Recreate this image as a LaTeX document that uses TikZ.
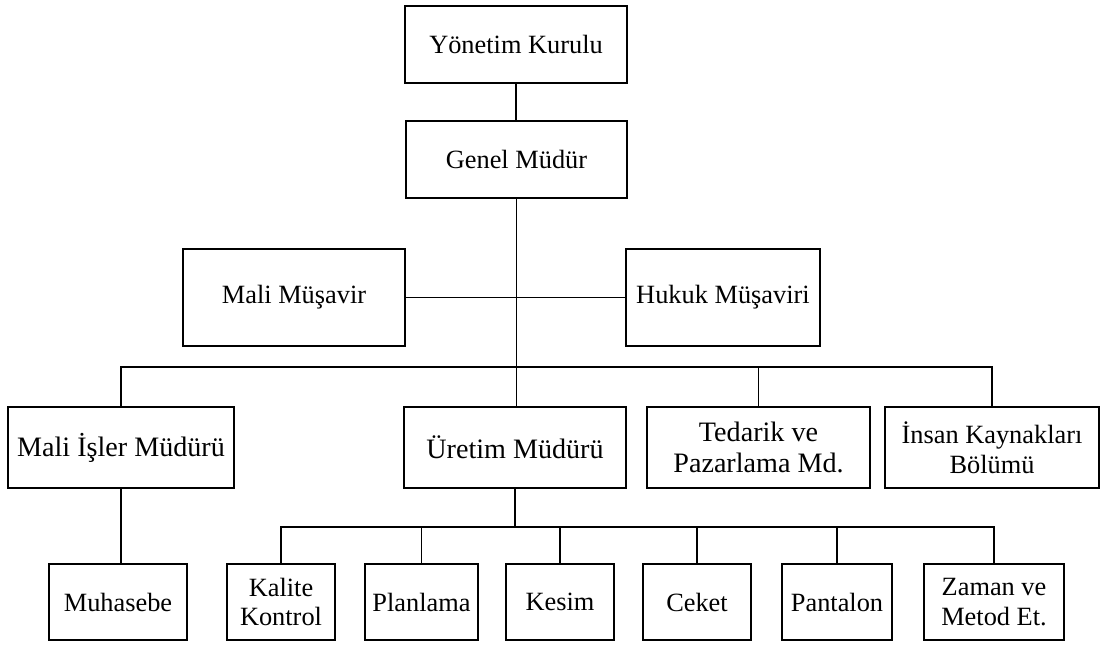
\documentclass[tikz,border=0pt]{standalone}
\usepackage{fontspec}
\setmainfont{Liberation Serif}
\usepackage{tikz}

\tikzset{
  kutu/.style={draw, line width=1.1pt, align=center, inner sep=2pt,
    font=\fontsize{15}{17}\selectfont},
  mdr/.style={kutu, font=\fontsize{16}{17.5}\selectfont},
  hat/.style={line width=0.6pt}
}

\begin{document}
\begin{tikzpicture}
\useasboundingbox (0,0) rectangle (22.18,-12.9);
%%%%%DRAW TOP BOXES%%%%%%%%%
\node[kutu, minimum width=4.44cm, minimum height=1.54cm] (yk) at (10.32,-0.89) {Yönetim Kurulu};
\node[kutu, minimum width=4.42cm, minimum height=1.54cm] (gm) at (10.33,-3.19) {Genel Müdür};
\node[kutu, minimum width=4.44cm, minimum height=1.94cm] (mm) at (5.88,-5.95) {Mali Müşavir};
\node[kutu, minimum width=3.88cm, minimum height=1.94cm] (hm) at (14.46,-5.95) {Hukuk Müşaviri};

%%%%%DRAW MANAGERS%%%%%%%
\node[mdr, minimum width=4.52cm, minimum height=1.62cm] (mim) at (2.42,-8.95) {Mali İşler Müdürü};
\node[mdr, minimum width=4.44cm, minimum height=1.62cm] (um) at (10.30,-8.95) {Üretim Müdürü};
\node[mdr, minimum width=4.46cm, minimum height=1.62cm] (tp) at (15.17,-8.95) {Tedarik ve\\Pazarlama Md.};
\node[kutu, minimum width=4.28cm, minimum height=1.62cm] (ik) at (19.84,-8.95) {İnsan Kaynakları\\Bölümü};

%%%%%DRAW UNITS%%%%%%%
\node[kutu, minimum width=2.76cm, minimum height=1.52cm] (muh) at (2.36,-12.04) {Muhasebe};
\node[kutu, minimum width=2.16cm, minimum height=1.52cm] (kk) at (5.62,-12.04) {Kalite\\Kontrol};
\node[kutu, minimum width=2.26cm, minimum height=1.52cm] (pl) at (8.43,-12.04) {Planlama};
\node[kutu, minimum width=2.16cm, minimum height=1.52cm] (ks) at (11.20,-12.04) {Kesim};
\node[kutu, minimum width=2.16cm, minimum height=1.52cm] (ck) at (13.94,-12.04) {Ceket};
\node[kutu, minimum width=2.20cm, minimum height=1.52cm] (pn) at (16.74,-12.04) {Pantalon};
\node[kutu, minimum width=2.80cm, minimum height=1.52cm] (zm) at (19.88,-12.04) {Zaman ve\\Metod Et.};

%%%%%DRAW LINES%%%%%%%
\coordinate (b1) at (10.28,-7.34);
\coordinate (b2) at (10.28,-10.54);
\draw[hat] (yk.south) -- (yk.south |- gm.north);
\draw[hat] (gm.south) -- (gm.south |- um.north);
\draw[hat] (mm.east) -- (hm.west);
\draw[hat] (mim.north) |- (b1) -| (ik.north);
\draw[hat] (tp.north) -- (tp.north |- b1);
\draw[hat] (mim.south) -- (mim.south |- muh.north);
\draw[hat] (um.south) -- (um.south |- b2);
\draw[hat] (kk.north) |- (b2) -| (zm.north);
\foreach \n in {pl,ks,ck,pn}
  \draw[hat] (\n.north) -- (\n.north |- b2);

\end{tikzpicture}
\end{document}
